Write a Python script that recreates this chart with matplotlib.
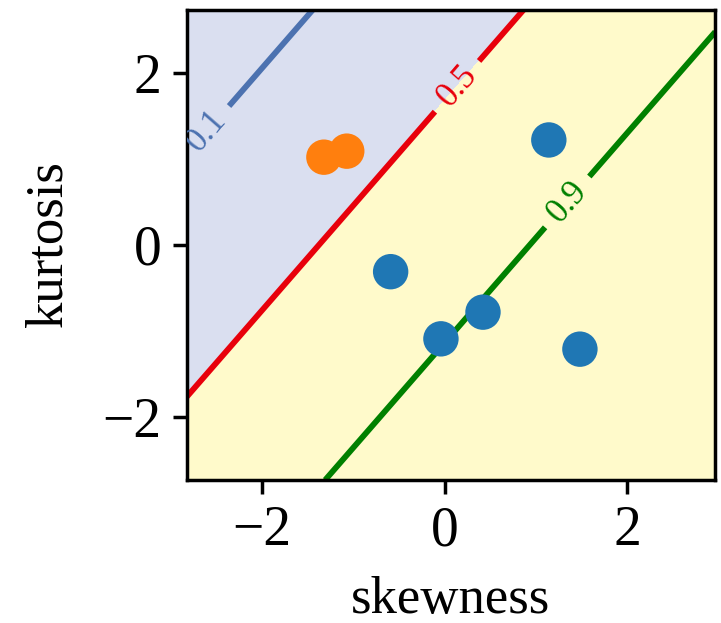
import numpy as np
import matplotlib
matplotlib.use("Agg")
import matplotlib.pyplot as plt

plt.rcParams['font.family'] = ['Liberation Serif', 'DejaVu Serif']
plt.rcParams['axes.unicode_minus'] = True

# points
blue_skew = [1.14, -0.59, -0.04, 0.42, 1.48]
blue_kurt = [1.22, -0.31, -1.09, -0.78, -1.21]
orange_skew = [-1.32, -1.07]
orange_kurt = [1.02, 1.09]

# logistic model p = sigmoid(w_skew*x + w_kurt*y + bias), estimated from the line positions
w_skew = 0.953
w_kurt = -0.781
bias = 1.31

levels = [0.1, 0.5, 0.9]
level_colors = ['#4c72b0', '#e8000b', 'green']
label_pos = [(-2.6, 1.32), (0.15, 1.83), (1.32, 0.52)]

xlim = (-2.82, 2.96)
ylim = (-2.73, 2.73)

xx, yy = np.meshgrid(np.linspace(xlim[0], xlim[1], 400), np.linspace(ylim[0], ylim[1], 400))
prob = 1 / (1 + np.exp(-(w_skew * xx + w_kurt * yy + bias)))

fig = plt.figure(figsize=(7.21, 6.23), dpi=100)
ax = fig.add_axes([0.259, 0.2295, 0.733, 0.7545])

ax.contourf(xx, yy, prob, levels=[0, 0.5, 1], colors=['#dadff0', '#fffacb'])
cs = ax.contour(xx, yy, prob, levels=levels, colors=level_colors, linewidths=4.2)
labels = ax.clabel(cs, fmt='%.1f', fontsize=25, inline=True, inline_spacing=12,
                   manual=label_pos)

ax.scatter(orange_skew, orange_kurt, s=650, color='#ff7f0e', edgecolors='none', zorder=3)
ax.scatter(blue_skew, blue_kurt, s=650, color='#1f77b4', edgecolors='none', zorder=3)

ax.set_xlim(*xlim)
ax.set_ylim(*ylim)
ax.set_xticks([-2, 0, 2])
ax.set_yticks([-2, 0, 2])
ax.tick_params(labelsize=40, length=10, width=2.5, pad=8)
for s in ax.spines.values():
    s.set_linewidth(2.5)

ax.set_xlabel('skewness', fontsize=38, labelpad=14)
ax.set_ylabel('kurtosis', fontsize=38, labelpad=22)

fig.savefig('out.png', dpi=100)
